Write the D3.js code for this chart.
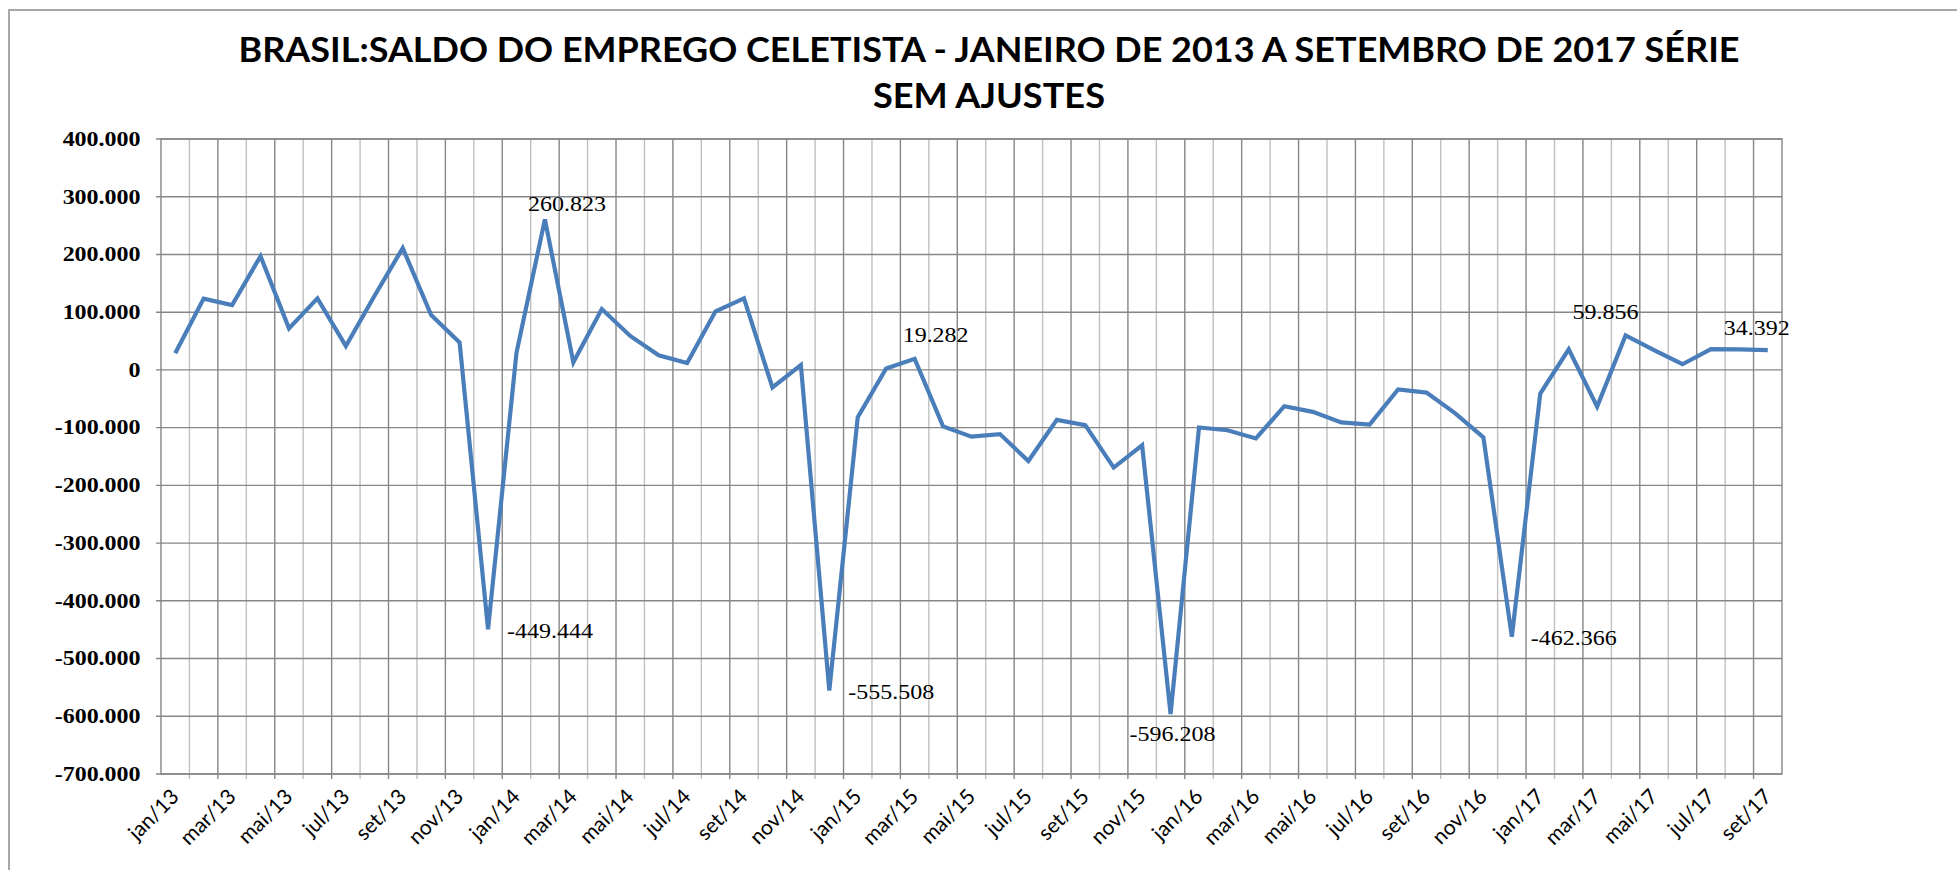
<!DOCTYPE html>
<html>
<head>
<meta charset="utf-8">
<script src="https://cdn.jsdelivr.net/npm/d3@7"></script>
<style>
  html, body { margin: 0; padding: 0; background: #fff; }
  svg { display: block; }
</style>
</head>
<body>
<div id="chart"></div>
<script>
// Saldo do emprego celetista (CAGED), jan/2013 - set/2017, série sem ajustes

const titleLines = [
  'BRASIL:SALDO DO EMPREGO CELETISTA - JANEIRO DE 2013 A SETEMBRO DE 2017 SÉRIE',
  'SEM AJUSTES'
];

const categories = [
  'jan/13','fev/13','mar/13','abr/13','mai/13','jun/13','jul/13','ago/13','set/13','out/13','nov/13','dez/13',
  'jan/14','fev/14','mar/14','abr/14','mai/14','jun/14','jul/14','ago/14','set/14','out/14','nov/14','dez/14',
  'jan/15','fev/15','mar/15','abr/15','mai/15','jun/15','jul/15','ago/15','set/15','out/15','nov/15','dez/15',
  'jan/16','fev/16','mar/16','abr/16','mai/16','jun/16','jul/16','ago/16','set/16','out/16','nov/16','dez/16',
  'jan/17','fev/17','mar/17','abr/17','mai/17','jun/17','jul/17','ago/17','set/17'
];

const saldo = [
  28900, 123446, 112450, 196913, 72028, 123836, 41463, 127648, 211068, 94893, 47486, -449444,
  29595, 260823, 13117, 105384, 58836, 25363, 11796, 101425, 123785, -30283, 8381, -555508,
  -81774, 2415, 19282, -97828, -115599, -111199, -157905, -86543, -95602, -169131, -130629, -596208,
  -99694, -104582, -118776, -62844, -72615, -91032, -94724, -33953, -39282, -74748, -116747, -462366,
  -40864, 35612, -63624, 59856, 34253, 9821, 35900, 35457, 34392
];

const yTicks = [400000, 300000, 200000, 100000, 0, -100000, -200000, -300000, -400000, -500000, -600000, -700000];

// which points carry a value label
const labelled = ['fev/14', 'dez/13', 'dez/14', 'mar/15', 'dez/15', 'dez/16', 'abr/17', 'set/17'];

// label placement relative to its point: [dx, dy, anchor]
const labelPlace = {
  'fev/14': [22, -8, 'middle'],
  'dez/13': [19, 9, 'start'],
  'dez/14': [19, 8, 'start'],
  'mar/15': [21, -17, 'middle'],
  'dez/15': [2, 27, 'middle'],
  'dez/16': [19, 8, 'start'],
  'abr/17': [-20, -16, 'middle'],
  'set/17': [-11, -15, 'middle']
};

const width = 1957;
const height = 870;
const plot = { left: 161, right: 1782, top: 139, bottom: 774 };
const stretch = 1.2;

const ptBR = d3.formatLocale({ decimal: ',', thousands: '.', grouping: [3], currency: ['R$', ''], minus: '-' });
const fmt = ptBR.format(',d');

const svg = d3.select('#chart')
  .append('svg')
  .attr('width', width)
  .attr('height', height);

svg.append('rect')
  .attr('width', width)
  .attr('height', height)
  .attr('fill', '#fff');

// outer chart frame (cropped at right and bottom)
svg.append('path')
  .attr('d', `M9,${height} V10 H${width}`)
  .attr('fill', 'none')
  .attr('stroke', '#a8a8a8')
  .attr('stroke-width', 2);

// title
svg.selectAll('text.title')
  .data(titleLines)
  .enter()
  .append('text')
  .attr('class', 'title')
  .attr('x', 989)
  .attr('y', (d, i) => 62 + i * 46)
  .attr('text-anchor', 'middle')
  .attr('textLength', (d, i) => i === 0 ? 1501 : 232)
  .attr('lengthAdjust', 'spacingAndGlyphs')
  .style('font-family', 'Lato, sans-serif')
  .style('font-weight', '700')
  .style('font-size', '34px')
  .style('fill', '#000')
  .text(d => d);

// scales
const x = d3.scaleBand()
  .domain(categories)
  .range([plot.left, plot.right])
  .paddingInner(0)
  .paddingOuter(0);

const y = d3.scaleLinear()
  .domain([-700000, 400000])
  .range([plot.bottom, plot.top]);

const cx = d => x(d) + x.bandwidth() / 2;

// vertical gridlines at category boundaries (major every 2 months)
const boundaries = d3.range(1, categories.length);
svg.append('g')
  .selectAll('line')
  .data(boundaries)
  .enter()
  .append('line')
  .attr('x1', i => plot.left + i * x.bandwidth())
  .attr('x2', i => plot.left + i * x.bandwidth())
  .attr('y1', plot.top)
  .attr('y2', plot.bottom + 5)
  .attr('stroke', i => i % 2 === 0 ? '#868686' : '#c0c0c0')
  .attr('stroke-width', 1.4);

// horizontal gridlines
svg.append('g')
  .selectAll('line')
  .data(yTicks)
  .enter()
  .append('line')
  .attr('x1', plot.left - 5)
  .attr('x2', plot.right)
  .attr('y1', d => y(d))
  .attr('y2', d => y(d))
  .attr('stroke', '#868686')
  .attr('stroke-width', 1.4);

// plot frame
svg.append('rect')
  .attr('x', plot.left)
  .attr('y', plot.top)
  .attr('width', plot.right - plot.left)
  .attr('height', plot.bottom - plot.top)
  .attr('fill', 'none')
  .attr('stroke', '#868686')
  .attr('stroke-width', 1.4);

// y tick labels
svg.append('g')
  .selectAll('text')
  .data(yTicks)
  .enter()
  .append('text')
  .attr('transform', d => `translate(140.6,${y(d)}) scale(${stretch},1)`)
  .attr('dy', '0.34em')
  .attr('text-anchor', 'end')
  .style('font-family', '"Liberation Serif", "Times New Roman", serif')
  .style('font-weight', '700')
  .style('font-size', '20px')
  .style('fill', '#000')
  .text(d => fmt(d));

// x tick labels (every other month)
svg.append('g')
  .selectAll('text')
  .data(categories.filter((d, i) => i % 2 === 0))
  .enter()
  .append('text')
  .attr('transform', d => `translate(${cx(d) + 5},${plot.bottom + 24}) rotate(-45)`)
  .attr('text-anchor', 'end')
  .style('font-family', 'Lato, sans-serif')
  .style('font-size', '21px')
  .style('fill', '#000')
  .text(d => d);

// series line
const line = d3.line()
  .x((d, i) => cx(categories[i]))
  .y(d => y(d));

svg.append('path')
  .datum(saldo)
  .attr('d', line)
  .attr('fill', 'none')
  .attr('stroke', '#4a7ebb')
  .attr('stroke-width', 4.2)
  .attr('stroke-linejoin', 'miter')
  .attr('stroke-miterlimit', 4);

// value labels
svg.append('g')
  .selectAll('text')
  .data(labelled)
  .enter()
  .append('text')
  .attr('transform', d => {
    const v = saldo[categories.indexOf(d)];
    const [dx, dy] = labelPlace[d];
    return `translate(${cx(d) + dx},${y(v) + dy}) scale(${stretch},1)`;
  })
  .attr('text-anchor', d => labelPlace[d][2])
  .style('font-family', '"Liberation Serif", "Times New Roman", serif')
  .style('font-size', '20px')
  .style('fill', '#000')
  .text(d => fmt(saldo[categories.indexOf(d)]));
</script>
</body>
</html>
